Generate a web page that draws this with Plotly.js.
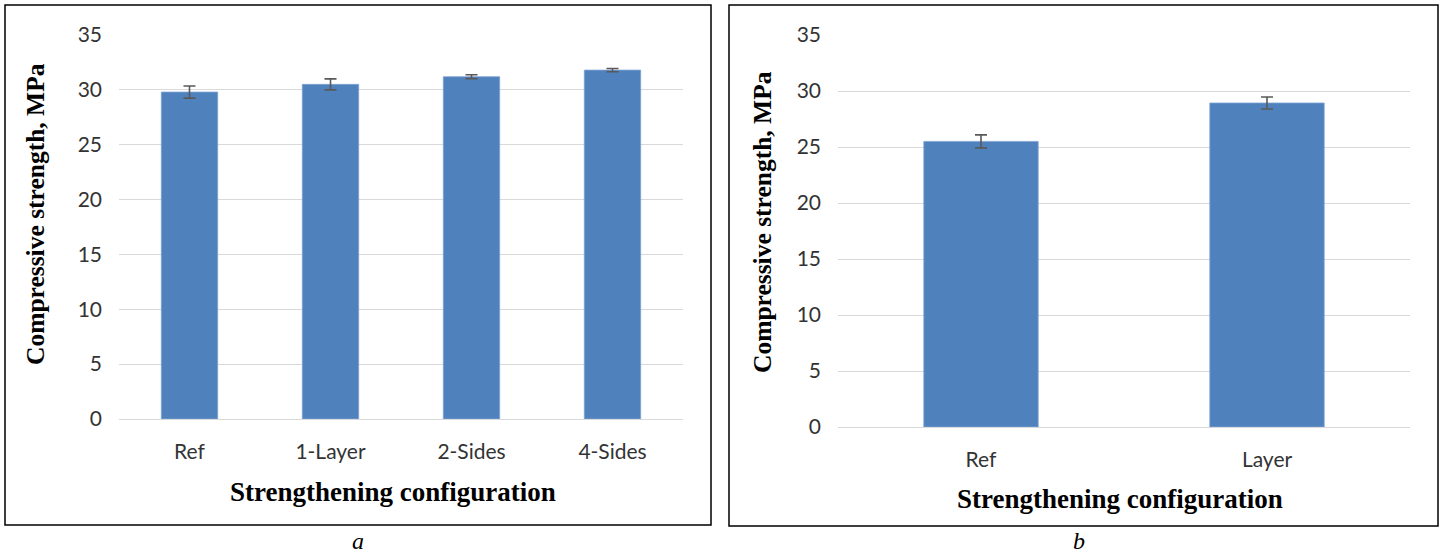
<!DOCTYPE html>
<html>
<head>
<meta charset="utf-8">
<script src="https://cdn.plot.ly/plotly-3.0.1.min.js"></script>
<style>html,body{margin:0;padding:0;background:#fff;}#chart{width:1443px;height:558px;}</style>
</head>
<body>
<div id="chart"></div>
<script>
// Panel a
const catsA = ["Ref", "1-Layer", "2-Sides", "4-Sides"];
const valsA = [29.8, 30.5, 31.2, 31.8];
const errA = [0.55, 0.5, 0.18, 0.15];
// Panel b
const catsB = ["Ref", "Layer"];
const valsB = [25.5, 28.93];
const errB = [0.58, 0.54];
const yTicks = [0, 5, 10, 15, 20, 25, 30, 35];

const W = 1443, H = 558;
const px = x => x / W;
const py = y => 1 - y / H;

const barColor = "#4F81BD";
const errStyle = {type: "data", visible: true, color: "#595959", thickness: 1.6, width: 6};

const traces = [
  {type: "bar", x: catsA, y: valsA, xaxis: "x", yaxis: "y",
   marker: {color: barColor, line: {color: "#7FA3D3", width: 0.8}},
   error_y: Object.assign({array: errA}, errStyle), width: 0.4, hoverinfo: "none"},
  {type: "bar", x: catsB, y: valsB, xaxis: "x2", yaxis: "y2",
   marker: {color: barColor, line: {color: "#7FA3D3", width: 0.8}},
   error_y: Object.assign({array: errB}, errStyle), width: 0.4, hoverinfo: "none"}
];

const tickFont = {family: "Lato, 'Open Sans', sans-serif", size: 21, color: "#333333"};
const serif = "'Liberation Serif', 'Times New Roman', serif";
const xTitleFont = {family: serif, size: 27, color: "#000"};
const yTitleFont = {family: serif, size: 25.5, color: "#000"};
const capFont = {family: serif, size: 24, color: "#000"};

function yax(domain, anchor) {
  return {domain: domain, anchor: anchor, range: [0, 35], tickvals: yTicks, ticktext: yTicks.map(String),
    showgrid: true, gridcolor: "#D9D9D9", gridwidth: 1, zeroline: false, showline: false,
    ticks: "", tickfont: tickFont, ticklabelstandoff: 16, fixedrange: true};
}
function xax(domain, anchor) {
  return {domain: domain, anchor: anchor, showgrid: false, zeroline: false, showline: true,
    linecolor: "#D9D9D9", linewidth: 1, ticks: "", tickfont: tickFont, ticklabelstandoff: 14, fixedrange: true};
}

const layout = {
  width: W, height: H, margin: {l: 0, r: 0, t: 0, b: 0},
  paper_bgcolor: "#fff", plot_bgcolor: "#fff", showlegend: false,
  xaxis: xax([px(119), px(683)], "y"),
  yaxis: yax([py(419), py(35)], "x"),
  xaxis2: xax([px(838), px(1410)], "y2"),
  yaxis2: yax([py(427), py(35)], "x2"),
  shapes: [
    {type: "rect", xref: "paper", yref: "paper", x0: px(5), x1: px(711), y0: py(525), y1: py(5),
     line: {color: "#000", width: 1.5}},
    {type: "rect", xref: "paper", yref: "paper", x0: px(729), x1: px(1438), y0: py(526), y1: py(5),
     line: {color: "#000", width: 1.5}}
  ],
  annotations: [
    {text: "<b>Compressive strength, MPa</b>", xref: "paper", yref: "paper", x: px(36), y: py(214),
     textangle: -90, showarrow: false, font: yTitleFont, xanchor: "center", yanchor: "middle"},
    {text: "<b>Compressive strength, MPa</b>", xref: "paper", yref: "paper", x: px(762), y: py(222),
     textangle: -90, showarrow: false, font: yTitleFont, xanchor: "center", yanchor: "middle"},
    {text: "<b>Strengthening configuration</b>", xref: "paper", yref: "paper", x: px(393), y: py(492),
     showarrow: false, font: xTitleFont, xanchor: "center", yanchor: "middle"},
    {text: "<b>Strengthening configuration</b>", xref: "paper", yref: "paper", x: px(1120), y: py(499),
     showarrow: false, font: xTitleFont, xanchor: "center", yanchor: "middle"},
    {text: "<i>a</i>", xref: "paper", yref: "paper", x: px(358), y: py(541),
     showarrow: false, font: capFont, xanchor: "center", yanchor: "middle", borderpad: 0},
    {text: "<i>b</i>", xref: "paper", yref: "paper", x: px(1079), y: py(541),
     showarrow: false, font: capFont, xanchor: "center", yanchor: "middle", borderpad: 0}
  ]
};

Plotly.newPlot("chart", traces, layout, {displayModeBar: false, staticPlot: true});
</script>
</body>
</html>
